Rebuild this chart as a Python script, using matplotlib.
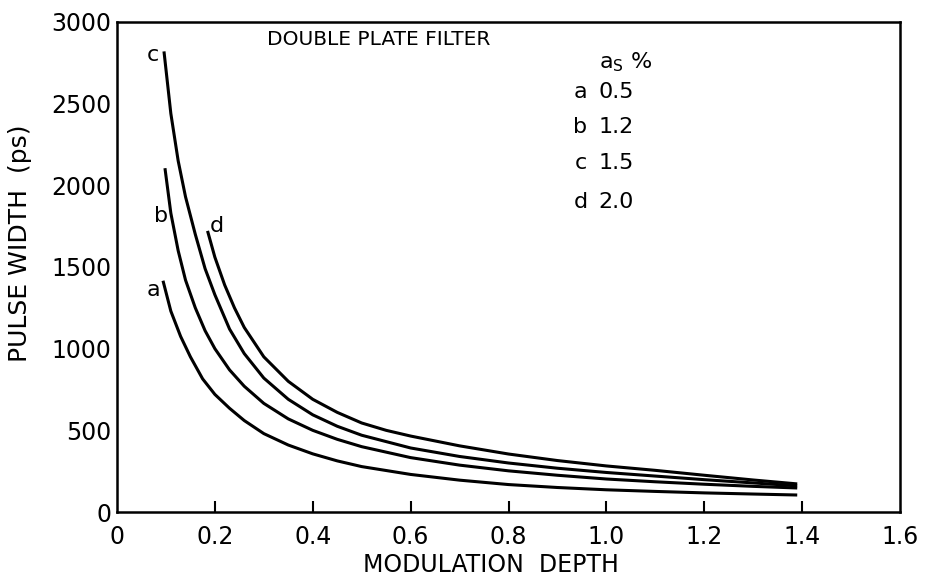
import matplotlib
matplotlib.use("Agg")
import matplotlib.pyplot as plt

# ---- data ----
x_a = [0.094, 0.11, 0.13, 0.15, 0.175, 0.2, 0.23, 0.26, 0.3, 0.35, 0.4, 0.45, 0.5,
       0.6, 0.7, 0.8, 0.9, 1.0, 1.1, 1.2, 1.3, 1.39]
y_a = [1416, 1230, 1075, 950, 815, 720, 635, 560, 480, 410, 356, 313, 278,
       230, 195, 168, 150, 136, 126, 117, 110, 104]

x_b = [0.098, 0.11, 0.125, 0.14, 0.16, 0.18, 0.2, 0.23, 0.26, 0.3, 0.35, 0.4, 0.45,
       0.5, 0.6, 0.7, 0.8, 0.9, 1.0, 1.1, 1.2, 1.3, 1.39]
y_b = [2105, 1830, 1600, 1420, 1250, 1110, 1000, 870, 770, 665, 570, 500, 445,
       400, 333, 287, 252, 225, 202, 185, 170, 157, 147]

x_c = [0.096, 0.11, 0.125, 0.14, 0.16, 0.18, 0.2, 0.23, 0.26, 0.3, 0.35, 0.4, 0.45,
       0.5, 0.6, 0.7, 0.8, 0.9, 1.0, 1.1, 1.2, 1.3, 1.39]
y_c = [2820, 2440, 2150, 1930, 1700, 1490, 1330, 1120, 970, 820, 690, 595, 525,
       470, 392, 340, 300, 268, 242, 220, 198, 178, 160]

x_d = [0.185, 0.2, 0.22, 0.24, 0.26, 0.3, 0.35, 0.4, 0.45, 0.5, 0.55, 0.6, 0.7,
       0.8, 0.9, 1.0, 1.1, 1.2, 1.3, 1.39]
y_d = [1721, 1560, 1390, 1250, 1130, 950, 800, 690, 610, 545, 500, 465, 405,
       355, 315, 282, 255, 225, 196, 172]

curve_names = ["a", "b", "c", "d"]
as_values = ["0.5", "1.2", "1.5", "2.0"]

x_ticks = [0, 0.2, 0.4, 0.6, 0.8, 1.0, 1.2, 1.4, 1.6]
x_ticklabels = ["0", "0.2", "0.4", "0.6", "0.8", "1.0", "1.2", "1.4", "1.6"]
y_ticks = [0, 500, 1000, 1500, 2000, 2500, 3000]

# ---- figure ----
fig = plt.figure(figsize=(9.25, 5.77), dpi=100)
ax = fig.add_axes([117/925, 1-512/577, (900-117)/925, (512-22)/577])

lw = 2.2
for xs, ys in [(x_a, y_a), (x_b, y_b), (x_c, y_c), (x_d, y_d)]:
    ax.plot(xs, ys, color="black", lw=lw, solid_capstyle="butt",
            solid_joinstyle="round")

ax.set_xlim(0, 1.6)
ax.set_ylim(0, 3000)
ax.set_xticks(x_ticks)
ax.set_xticklabels(x_ticklabels)
ax.set_yticks(y_ticks)

for s in ax.spines.values():
    s.set_linewidth(1.8)

ax.tick_params(axis="both", direction="in", length=8, width=1.5,
               labelsize=17, colors="black")
ax.tick_params(axis="x", pad=9)
ax.tick_params(axis="y", pad=4)
for t in ax.xaxis.get_major_ticks():
    if t.get_loc() in (0, 1.6):
        t.tick1line.set_visible(False)
for t in ax.yaxis.get_major_ticks():
    if t.get_loc() in (0, 3000):
        t.tick1line.set_visible(False)

fig.text(491/925, 1-565/577, "MODULATION  DEPTH", fontsize=17,
         ha="center", va="center")
fig.text(20/925, 1-243/577, "PULSE WIDTH  (ps)", rotation=90,
         fontsize=18, ha="center", va="center")

# curve labels
lab_pos = {"a": (0.074, 1359), "b": (0.0896, 1812), "c": (0.073, 2798), "d": (0.204, 1751)}
for n in curve_names:
    ax.text(*lab_pos[n], n, fontsize=16, ha="center", va="center")

# title inside
ax.text(0.535, 2890, "DOUBLE PLATE FILTER", fontsize=14.5, ha="center", va="center")

# legend table
ax.text(0.984, 2756, r"$\mathregular{a_S}$ %", fontsize=16, ha="left", va="center")
leg_y = [2570, 2355, 2135, 1900]
for n, v, yy in zip(curve_names, as_values, leg_y):
    ax.text(0.947, yy, n, fontsize=16, ha="center", va="center")
    ax.text(0.984, yy, v, fontsize=16, ha="left", va="center")

fig.savefig("out.png", dpi=100)
